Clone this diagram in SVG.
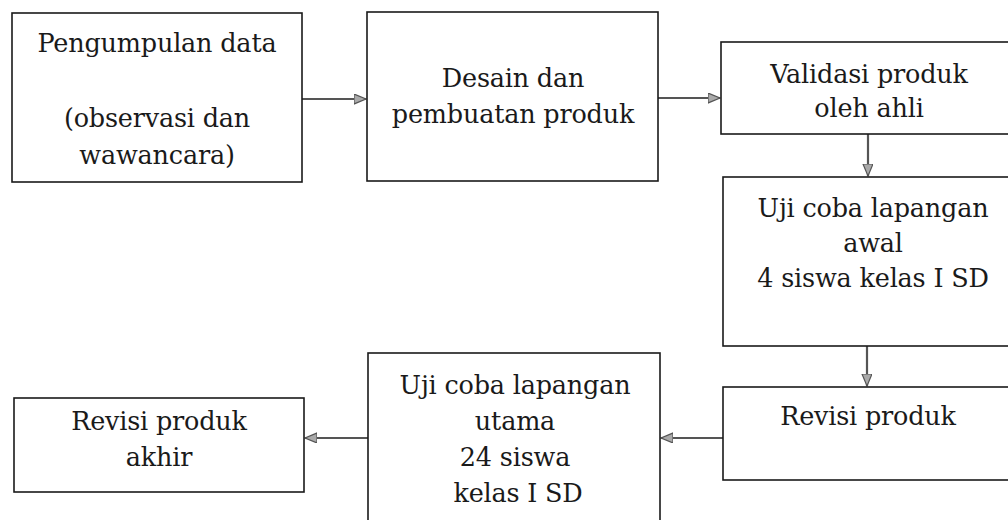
<svg xmlns="http://www.w3.org/2000/svg" width="1008" height="520" viewBox="0 0 1008 520">
<style>
.box{fill:#fff;stroke:#1a1a1a;stroke-width:1.6}
.t{font-family:'DejaVu Serif','Liberation Serif',serif;font-size:25.5px;letter-spacing:-0.2px;fill:#1a1a1a;text-anchor:middle}
.c{fill:none;stroke:#555;stroke-width:2.2}
</style>
<defs>
<marker id="ah" markerUnits="userSpaceOnUse" markerWidth="14" markerHeight="12" refX="12" refY="5" orient="auto">
<path d="M0,0 L12,5 L0,10 z" fill="#aaa" stroke="#555" stroke-width="1.2"/>
</marker>
</defs>
<rect width="1008" height="520" fill="#fff"/>
<g id="connectors">
<path class="c" d="M302,99 H366" marker-end="url(#ah)"/>
<path class="c" d="M658,98 H720" marker-end="url(#ah)"/>
<path class="c" d="M868,134 V176" marker-end="url(#ah)"/>
<path class="c" d="M867,346 V386" marker-end="url(#ah)"/>
<path class="c" d="M723,438 H661" marker-end="url(#ah)"/>
<path class="c" d="M368,438 H305" marker-end="url(#ah)"/>
</g>
<g id="n1">
<rect class="box" x="12" y="13" width="290" height="169"/>
<text class="t" x="157" y="52">Pengumpulan data</text>
<text class="t" x="157" y="127">(observasi dan</text>
<text class="t" x="157" y="164">wawancara)</text>
</g>
<g id="n2">
<rect class="box" x="367" y="12" width="291" height="169"/>
<text class="t" x="513" y="87">Desain dan</text>
<text class="t" x="513" y="123">pembuatan produk</text>
</g>
<g id="n3">
<rect class="box" x="721" y="42" width="300" height="92"/>
<text class="t" x="869" y="83">Validasi produk</text>
<text class="t" x="869" y="117">oleh ahli</text>
</g>
<g id="n4">
<rect class="box" x="723" y="177" width="300" height="169"/>
<text class="t" x="873" y="217">Uji coba lapangan</text>
<text class="t" x="873" y="252">awal</text>
<text class="t" x="873" y="287">4 siswa kelas I SD</text>
</g>
<g id="n5">
<rect class="box" x="723" y="387" width="300" height="93"/>
<text class="t" x="868" y="425">Revisi produk</text>
</g>
<g id="n6">
<rect class="box" x="368" y="353" width="292" height="180"/>
<text class="t" x="515" y="394">Uji coba lapangan</text>
<text class="t" x="515" y="430">utama</text>
<text class="t" x="515" y="466">24 siswa</text>
<text class="t" x="518" y="502">kelas I SD</text>
</g>
<g id="n7">
<rect class="box" x="14" y="398" width="290" height="94"/>
<text class="t" x="159" y="430">Revisi produk</text>
<text class="t" x="159" y="466">akhir</text>
</g>
</svg>
